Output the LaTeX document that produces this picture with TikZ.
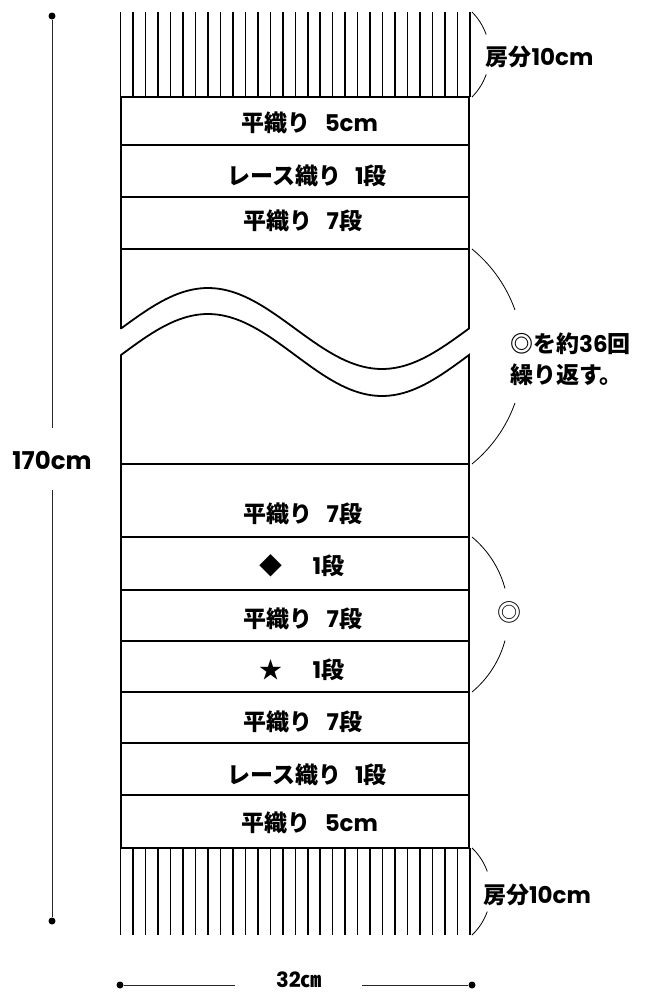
\documentclass[tikz,border=0pt]{standalone}
\usepackage{fontspec}
\setmainfont{Noto Sans CJK JP}
\newfontfamily\latf{Poppins}
\newcommand\latn[1]{{\latf #1}}
\begin{document}
\begin{tikzpicture}[x=1pt,y=-1pt,
  frame/.style={line width=1.8pt, line join=miter},
  fringe/.style={line width=1.5pt},
  brace/.style={line width=0.8pt},
  dimline/.style={line width=1pt, black!85},
  dot/.style={circle, fill=black, inner sep=0pt, minimum size=7pt},
  lbl/.style={font=\bfseries\fontsize{23}{31}\selectfont, inner sep=0pt},
]
\useasboundingbox (0,0) rectangle (649,994);
% fringes
\foreach \i in {0,...,28} {
  \draw[fringe] ({120.7+\i*12.47},12) -- ({120.7+\i*12.47},97);
  \draw[fringe] ({120.7+\i*12.47},848) -- ({120.7+\i*12.47},935);
}
% upper part of the scarf with wave cut
\draw[frame] (469,329) -- (469,97) -- (121,97) -- (121,329)
  -- plot[domain=121:469, samples=80] (\x,{328.5-40.5*sin((\x-121)*1.03448)});
% lower part
\draw[frame] plot[domain=121:469, samples=80] (\x,{355-41*sin((\x-121)*1.03448)})
  -- (469,848) -- (121,848) -- cycle;
% band lines
\foreach \y in {145,197,249,464,537,590,641,692,743,795}
  \draw[frame] (121,\y) -- (469,\y);
% band labels
\node[lbl] (b1) at (310,123) {平織り\hspace{0.6em}\latn{5cm}};
\node[lbl] (b2) at (307,176) {レース織り\hspace{0.6em}\latn{1}段};
\node[lbl] (b3) at (303,221) {平織り\hspace{0.6em}\latn{7}段};
\node[lbl] (b4) at (303,514) {平織り\hspace{0.6em}\latn{7}段};
\node[lbl] (b5) at (302,566) {◆\hspace{1.3em}\latn{1}段};
\node[lbl] (b6) at (303,619) {平織り\hspace{0.6em}\latn{7}段};
\node[lbl] (b7) at (302,670) {★\hspace{1.3em}\latn{1}段};
\node[lbl] (b8) at (303,722) {平織り\hspace{0.6em}\latn{7}段};
\node[lbl] (b9) at (307,775) {レース織り\hspace{0.6em}\latn{1}段};
\node[lbl] (b10) at (310,823) {平織り\hspace{0.6em}\latn{5cm}};
% right-hand braces
\draw[brace] plot[domain=-45.1:-19.5, samples=20] ({429.6+60*cos(\x)},{54.5+60*sin(\x)});
\draw[brace] plot[domain=19.5:45.1, samples=20] ({429.6+60*cos(\x)},{54.5+60*sin(\x)});
\draw[brace] plot[domain=-46.5:-19.5, samples=20] ({430.7+60*cos(\x)},{891.5+60*sin(\x)});
\draw[brace] plot[domain=19.5:46.5, samples=20] ({430.7+60*cos(\x)},{891.5+60*sin(\x)});
\draw[brace] plot[domain=-50.8:-19.6, samples=30] ({384.3+138.7*cos(\x)},{356.5+138.7*sin(\x)});
\draw[brace] plot[domain=19.6:50.8, samples=30] ({384.3+138.7*cos(\x)},{356.5+138.7*sin(\x)});
\draw[brace] plot[domain=-50.3:-15, samples=30] ({407.7+100.7*cos(\x)},{614.5+100.7*sin(\x)});
\draw[brace] plot[domain=15:50.3, samples=30] ({407.7+100.7*cos(\x)},{614.5+100.7*sin(\x)});
% right labels
\node[lbl] (f1) at (539.5,57) {房分\latn{10cm}};
\node[lbl] (f2) at (537,895) {房分\latn{10cm}};
\node[lbl, align=left, anchor=west] (rep) at (510,359) {◎を約\latn{36}回\\繰り返す。};
\node[font=\fontsize{24}{24}\selectfont, inner sep=0pt] (mk) at (509,612) {◎};
% length dimension
\node[dot] (dt) at (52,16) {};
\node[dot] (db) at (52,921) {};
\coordinate (g1) at (52,428);
\coordinate (g2) at (52,490);
\draw[dimline] (dt) -- (g1);
\draw[dimline] (g2) -- (db);
\node[lbl, font=\bfseries\fontsize{24.5}{28}\selectfont] (len) at (52,460) {\latn{170cm}};
% width dimension
\node[dot] (dl) at (120,985) {};
\node[dot] (dr) at (472,985) {};
\coordinate (h1) at (235,985);
\coordinate (h2) at (362,985);
\draw[dimline] (dl) -- (h1);
\draw[dimline] (h2) -- (dr);
\node[lbl, font=\bfseries\fontsize{21}{24}\selectfont, anchor=base] (wid) at (299,987) {\latn{32}㎝};
\end{tikzpicture}
\end{document}
